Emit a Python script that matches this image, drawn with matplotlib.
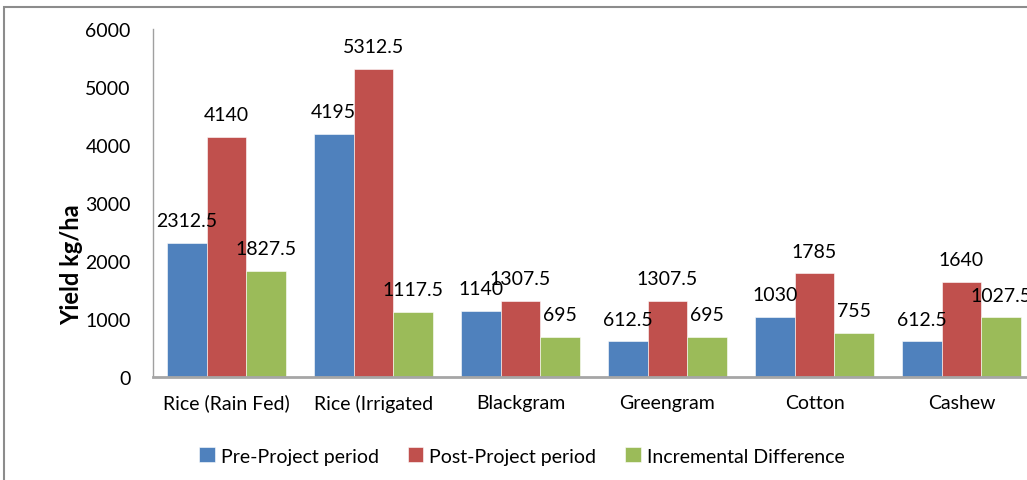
import matplotlib
matplotlib.use("Agg")
import matplotlib.pyplot as plt
import numpy as np
from matplotlib.patches import Rectangle

categories = ["Rice (Rain Fed)", "Rice (Irrigated", "Blackgram", "Greengram", "Cotton", "Cashew"]
pre_project = [2312.5, 4195, 1140, 612.5, 1030, 612.5]
post_project = [4140, 5312.5, 1307.5, 1307.5, 1785, 1640]
incremental = [1827.5, 1117.5, 695, 695, 755, 1027.5]
series_names = ["Pre-Project period", "Post-Project period", "Incremental Difference"]
colors = ["#4F81BD", "#C0504D", "#9BBB59"]
yticks = [0, 1000, 2000, 3000, 4000, 5000, 6000]

plt.rcParams['font.family'] = ['Lato', 'DejaVu Sans']
FS = 14

W, H = 1027, 481
fig = plt.figure(figsize=(W / 100, H / 100), dpi=100)
ax = fig.add_axes([153 / W, 1 - 378 / H, 882 / W, 348 / H])

x = np.arange(len(categories))
bw = 0.27
for i, (vals, name, c) in enumerate(zip([pre_project, post_project, incremental], series_names, colors)):
    bars = ax.bar(x + (i - 1) * bw, vals, bw, color=c, label=name, edgecolor="white", linewidth=0.4)
    for b, v in zip(bars, vals):
        ax.annotate(f"{v:g}", (b.get_x() + b.get_width() / 2, v), xytext=(0, 10),
                    textcoords="offset points", ha="center", va="bottom", fontsize=FS, color="black")

ax.set_xlim(-0.5, len(categories) - 0.5)
ax.set_ylim(0, 6000)
ax.set_yticks(yticks)
ax.set_yticklabels([str(t) for t in yticks], fontsize=FS)
ax.set_xticks(x)
ax.set_xticklabels(categories, fontsize=FS)
ax.tick_params(axis="y", length=0, pad=16)
ax.tick_params(axis="x", length=0, pad=12)
for s in ["top", "right"]:
    ax.spines[s].set_visible(False)
ax.spines["left"].set_color("#A0A0A0")
ax.spines["left"].set_linewidth(1.0)
ax.spines["bottom"].set_color("#A6A6A6")
ax.spines["bottom"].set_linewidth(2.0)

fig.text(72 / W, 1 - 265 / H, "Yield kg/ha", rotation=90, ha="center", va="center",
         fontsize=17, fontweight="bold")

handles, labels = ax.get_legend_handles_labels()
fig.legend(handles, labels, loc="center", bbox_to_anchor=(522 / W, 1 - 457 / H), ncol=3,
           frameon=False, fontsize=FS, handlelength=0.8, handleheight=0.8, handletextpad=0.3,
           columnspacing=1.5)

fig.patches.append(Rectangle((4 / W, -0.1), 1.2, 1 - 8 / H + 0.1, transform=fig.transFigure,
                             fill=False, edgecolor="#8C8C8C", linewidth=1.5))

fig.savefig("out.png", dpi=100)
